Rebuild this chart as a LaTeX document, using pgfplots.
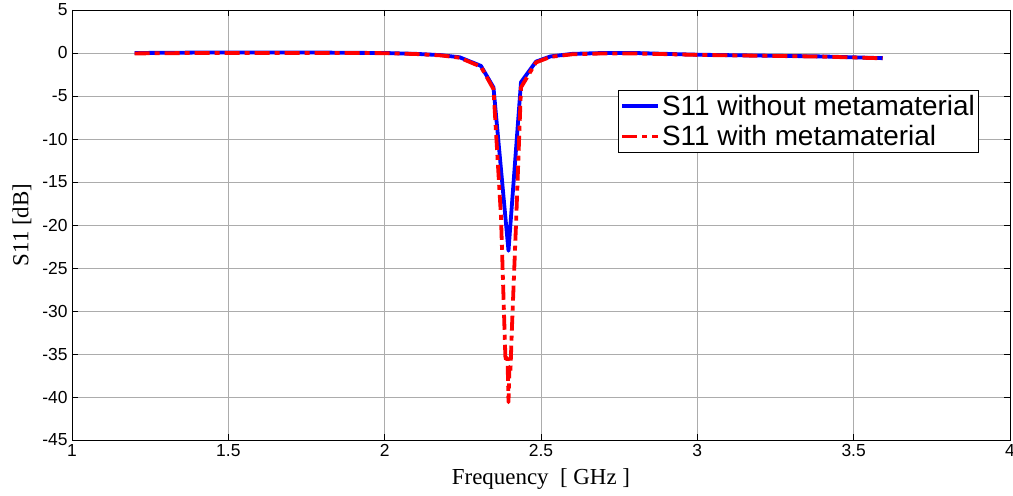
\documentclass[border=0pt]{standalone}
\usepackage{fontspec}
\setmainfont{Liberation Serif}
\newfontfamily\arial{Liberation Sans}
\usepackage{pgfplots}
\pgfplotsset{compat=1.18}
\begin{document}
\begin{tikzpicture}
\begin{axis}[
  scale only axis,
  width=938bp, height=430bp,
  xmin=1, xmax=4, ymin=-45, ymax=5,
  xtick={1,1.5,...,4}, ytick={-45,-40,...,5},
  xticklabels={1,1.5,2,2.5,3,3.5,4},
  grid=major,
  major grid style={gray!65, line width=0.6pt},
  axis line style={black, line width=0.8pt},
  tick align=inside, major tick length=6bp,
  tick style={black, line width=0.6pt},
  xtick pos=both, ytick pos=both,
  /pgf/number format/assume math mode=true,
  ticklabel style={font=\arial\fontsize{17.5}{17.5}\selectfont},
  xticklabel style={yshift=-1bp},
  yticklabel style={xshift=-1bp},
  xlabel={Frequency\ \ [ GHz ]},
  ylabel={S11 [dB]},
  label style={font=\fontsize{23}{23}\selectfont},
  xlabel style={yshift=-5bp},
  ylabel style={yshift=4bp},
  legend style={at={(0.582,0.815)}, anchor=north west,
    font=\arial\fontsize{28}{28}\selectfont, draw=black, line width=0.8pt,
    inner xsep=2bp, inner ysep=3bp, row sep=5bp,
    legend cell align=left},
  legend image code/.code={\draw[#1] (0bp,0bp) -- (36bp,0bp);},
]
\addplot[blue, line width=3.8bp, line join=round] coordinates {
(1.2,0) (1.4,0.05) (1.6,0.05) (1.8,0.05) (1.9,0.02) (2.0,0) (2.1,-0.1)
(2.18,-0.25) (2.24,-0.5) (2.308,-1.5) (2.348,-4.0) (2.396,-23.0)
(2.436,-3.4) (2.484,-1.0) (2.53,-0.4) (2.6,-0.1) (2.7,0.0) (2.8,0.0)
(3.0,-0.2) (3.2,-0.3) (3.4,-0.4) (3.593,-0.6)
};
\addlegendentry{S11 without metamaterial}
\addplot[red, line width=3.8bp, line join=round,
  dash pattern=on 15bp off 5bp on 5bp off 5bp] coordinates {
(1.2,-0.05) (1.4,0) (1.6,0) (1.8,0) (1.9,0) (2.0,-0.02) (2.1,-0.12)
(2.18,-0.28) (2.24,-0.55) (2.308,-1.6) (2.348,-4.2) (2.372,-19)
(2.378,-26) (2.386,-35.3) (2.390,-36) (2.393,-35.5) (2.396,-40.6)
(2.399,-36.5) (2.402,-37.2) (2.407,-32) (2.42,-20) (2.436,-4.0)
(2.484,-1.1) (2.53,-0.45) (2.6,-0.15) (2.7,-0.05) (2.8,-0.05)
(3.0,-0.22) (3.2,-0.32) (3.4,-0.42) (3.593,-0.62)
};
\addlegendentry{S11 with metamaterial}
\coordinate (bl) at (rel axis cs:0,0);
\coordinate (tr) at (rel axis cs:1,1);
\end{axis}
\pgfresetboundingbox
\path ([shift={(-72bp,-56bp)}]bl) rectangle ([shift={(3bp,10bp)}]tr);
\end{tikzpicture}
\end{document}
